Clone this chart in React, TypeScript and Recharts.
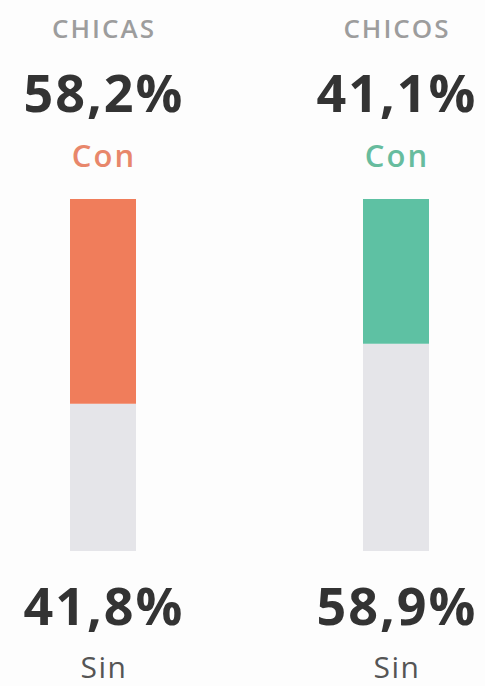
import { BarChart, Bar, XAxis, YAxis, Cell, LabelList } from 'recharts';

const groups = ['CHICAS', 'CHICOS'];
const conValues = [58.2, 41.1];
const sinValues = [41.8, 58.9];
const conColors = ['#F07D5B', '#5EC1A3'];
const conTextColors = ['#E8876B', '#67BC9E'];

const data = groups.map((g, i) => ({ group: g, con: conValues[i], sin: sinValues[i] }));

const fmt = (v: number) => `${v.toFixed(1).replace('.', ',')}%`;
const FONT = '"Open Sans", sans-serif';

const TopLabel = (props: any) => {
  const { x, y, width, index } = props;
  const cx = x + width / 2;
  return (
    <g>
      <text x={cx + 1} y={y - 161} textAnchor="middle" fill="#9d9d9d" fontSize={26} fontWeight={600} letterSpacing={2} fontFamily={FONT}>
        {groups[index]}
      </text>
      <text x={cx + 1} y={y - 87} textAnchor="middle" fill="#333333" fontSize={52} fontWeight={700} letterSpacing={2} fontFamily={FONT}>
        {fmt(conValues[index])}
      </text>
      <text x={cx + 1} y={y - 32} textAnchor="middle" fill={conTextColors[index]} fontSize={31} fontWeight={600} letterSpacing={2} fontFamily={FONT}>
        Con
      </text>
    </g>
  );
};

const BottomLabel = (props: any) => {
  const { x, y, width, height, index } = props;
  const cx = x + width / 2;
  const bottom = y + height;
  return (
    <g>
      <text x={cx + 1} y={bottom + 74} textAnchor="middle" fill="#333333" fontSize={52} fontWeight={700} letterSpacing={2} fontFamily={FONT}>
        {fmt(sinValues[index])}
      </text>
      <text x={cx + 1} y={bottom + 127} textAnchor="middle" fill="#555555" fontSize={30} fontWeight={400} letterSpacing={1.5} fontFamily={FONT}>
        Sin
      </text>
    </g>
  );
};

export default function App() {
  return (
    <div style={{ position: 'absolute', left: 0, top: 0, width: 485, height: 686, background: '#fdfdfd' }}>
      <BarChart
        width={485}
        height={686}
        data={data}
        margin={{ top: 199, right: -57, bottom: 135, left: -44 }}
      >
        <XAxis dataKey="group" hide />
        <YAxis hide domain={[0, 100]} />
        <Bar dataKey="sin" stackId="a" fill="#E5E5E9" barSize={66} isAnimationActive={false}>
          <LabelList dataKey="sin" content={<BottomLabel />} />
        </Bar>
        <Bar dataKey="con" stackId="a" barSize={66} isAnimationActive={false}>
          {data.map((d, i) => (
            <Cell key={d.group} fill={conColors[i]} />
          ))}
          <LabelList dataKey="con" content={<TopLabel />} />
        </Bar>
      </BarChart>
    </div>
  );
}
